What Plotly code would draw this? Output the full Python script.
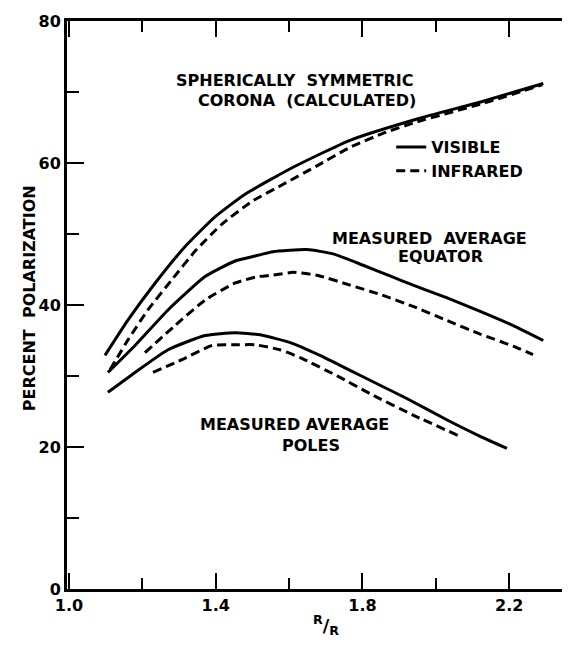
import plotly.graph_objects as go

# ---- data ----
sym_vis_x = [1.098, 1.161, 1.235, 1.316, 1.398, 1.480, 1.611, 1.766, 1.949, 2.129, 2.293]
sym_vis_y = [32.9, 37.9, 43.1, 48.2, 52.4, 55.6, 59.4, 63.2, 66.2, 68.7, 71.2]

sym_ir_x = [1.112, 1.161, 1.215, 1.281, 1.344, 1.417, 1.499, 1.584, 1.676, 1.766,
            1.857, 1.949, 2.129, 2.29]
sym_ir_y = [30.9, 35.1, 39.3, 43.6, 47.6, 51.4, 54.6, 57.0, 59.6, 62.2,
            64.2, 65.8, 68.4, 71.0]

eq_vis_x = [1.106, 1.180, 1.270, 1.371, 1.453, 1.515, 1.556, 1.649, 1.720, 1.802,
            1.875, 1.938, 2.031, 2.121, 2.211, 2.293]
eq_vis_y = [30.5, 34.3, 39.3, 44.0, 46.2, 47.0, 47.5, 47.8, 47.2, 45.6,
            44.1, 42.8, 41.0, 39.1, 37.1, 35.0]

eq_ir_x = [1.207, 1.289, 1.371, 1.453, 1.515, 1.556, 1.611, 1.676, 1.766, 1.848,
           1.938, 2.031, 2.121, 2.211, 2.265]
eq_ir_y = [33.3, 37.1, 40.7, 43.1, 44.0, 44.2, 44.6, 44.2, 42.8, 41.5,
           39.8, 37.8, 35.9, 34.2, 33.0]

pol_vis_x = [1.106, 1.180, 1.270, 1.371, 1.453, 1.521, 1.603, 1.684, 1.766, 1.848,
             1.922, 2.031, 2.121, 2.194]
pol_vis_y = [27.7, 30.5, 33.7, 35.7, 36.1, 35.8, 34.7, 32.9, 30.8, 28.7,
             26.8, 23.8, 21.5, 19.8]

pol_ir_x = [1.229, 1.308, 1.390, 1.461, 1.507, 1.575, 1.630, 1.739, 1.821, 1.938, 2.066]
pol_ir_y = [30.5, 32.3, 34.3, 34.4, 34.4, 33.7, 32.6, 29.8, 27.5, 24.5, 21.5]

x_tickvals = [1.0, 1.4, 1.8, 2.2]
x_ticktext = ["1.0", "1.4", "1.8", "2.2"]
y_tickvals = [0, 20, 40, 60, 80]
y_ticktext = ["0", "20", "40", "60", "80"]

FONT = "DejaVu Sans"
INK = "black"
DASH = "9px,5px"
TXT = 16

fig = go.Figure()

series = [
    (sym_vis_x, sym_vis_y, "solid", "VISIBLE", True),
    (sym_ir_x, sym_ir_y, DASH, "INFRARED", True),
    (eq_vis_x, eq_vis_y, "solid", "VISIBLE", False),
    (eq_ir_x, eq_ir_y, DASH, "INFRARED", False),
    (pol_vis_x, pol_vis_y, "solid", "VISIBLE", False),
    (pol_ir_x, pol_ir_y, DASH, "INFRARED", False),
]
for xs, ys, dash, name, show in series:
    fig.add_trace(go.Scatter(
        x=xs, y=ys, mode="lines", name=name, showlegend=show,
        line=dict(color=INK, width=3, dash=dash, shape="spline", smoothing=0.5),
    ))

annots = [
    dict(x=1.616, y=71.6, text="SPHERICALLY  SYMMETRIC"),
    dict(x=1.649, y=68.8, text="CORONA  (CALCULATED)"),
    dict(x=1.984, y=49.4, text="MEASURED  AVERAGE"),
    dict(x=2.014, y=46.9, text="EQUATOR"),
    dict(x=1.616, y=23.2, text="MEASURED AVERAGE"),
    dict(x=1.66, y=20.2, text="POLES"),
]
for a in annots:
    fig.add_annotation(x=a["x"], y=a["y"], text=a["text"], showarrow=False,
                       xref="x", yref="y",
                       font=dict(family=FONT, size=TXT, color=INK, weight="bold"))

# x-axis title R/R
fig.add_annotation(x=0.523, y=-0.09, xref="paper", yref="paper",
                   text="<sup>R</sup>/<sub>R</sub>", showarrow=False,
                   font=dict(family=FONT, size=18, color=INK, weight="bold"))

# y-axis title
fig.add_annotation(x=-0.1, y=0.512, xref="paper", yref="paper",
                   text="PERCENT  POLARIZATION", showarrow=False, textangle=-90,
                   font=dict(family=FONT, size=16, color=INK, weight="bold"))

fig.update_layout(
    width=575, height=650,
    margin=dict(l=67, r=13, t=15, b=61),
    paper_bgcolor="white", plot_bgcolor="white",
    font=dict(family=FONT, size=TXT, color=INK, weight="bold"),
    legend=dict(x=0.655, y=0.808, xanchor="left", yanchor="top",
                bgcolor="rgba(0,0,0,0)", borderwidth=0,
                font=dict(family=FONT, size=TXT, color=INK, weight="bold"),
                itemwidth=30, tracegroupgap=0),
    xaxis=dict(
        range=[0.9945, 2.344], showgrid=False, zeroline=False,
        showline=True, linewidth=3, linecolor=INK, mirror="allticks",
        tickmode="array", tickvals=x_tickvals, ticktext=x_ticktext,
        ticks="inside", ticklen=16, tickwidth=2, tickcolor=INK,
        minor=dict(tick0=1.0, dtick=0.2, ticks="inside", ticklen=11,
                   tickwidth=2, tickcolor=INK, showgrid=False),
        tickfont=dict(family=FONT, size=16, color=INK, weight="bold"),
    ),
    yaxis=dict(
        range=[0, 80], showgrid=False, zeroline=False,
        showline=True, linewidth=3, linecolor=INK, mirror=False,
        tickmode="array", tickvals=y_tickvals, ticktext=y_ticktext,
        ticks="inside", ticklen=17, tickwidth=2, tickcolor=INK,
        minor=dict(tick0=0, dtick=10, ticks="inside", ticklen=12,
                   tickwidth=2, tickcolor=INK, showgrid=False),
        tickfont=dict(family=FONT, size=16, color=INK, weight="bold"),
    ),
)

fig.write_html("out.html")
